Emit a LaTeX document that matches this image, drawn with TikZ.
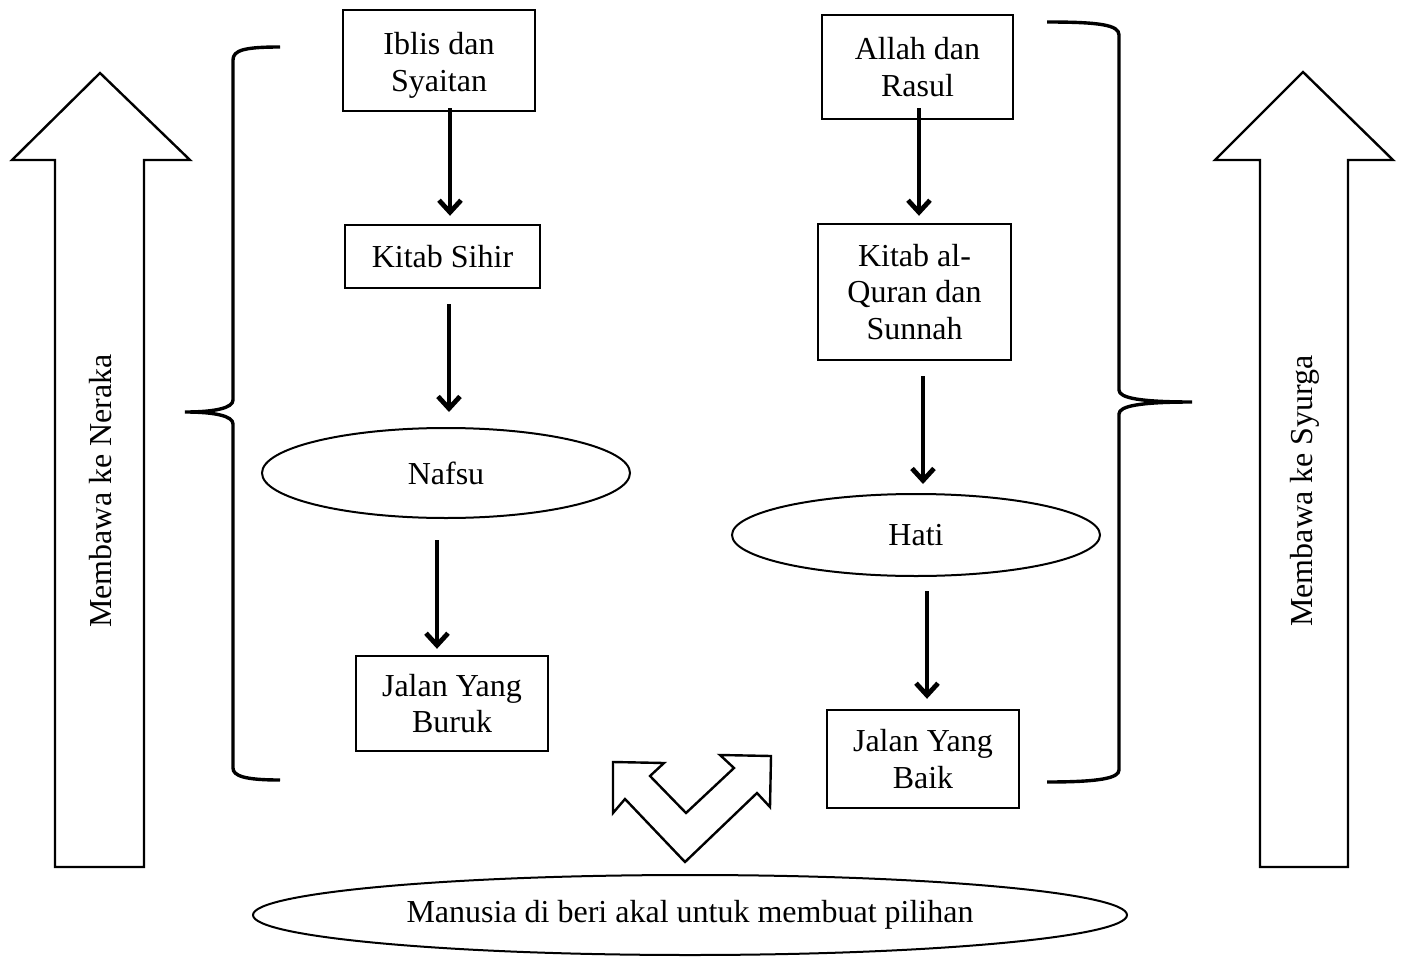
\documentclass[tikz,border=0pt]{standalone}
\usepackage{fontspec}
\setmainfont{Liberation Serif}
\usetikzlibrary{shapes.geometric,arrows.meta}

\tikzstyle{block} = [ draw,line width=1.2pt,align=center,inner sep=2pt,
                      font=\fontsize{16}{18.4}\selectfont]
\tikzstyle{oval}  = [ draw,ellipse,line width=1pt,inner sep=0pt,
                      font=\fontsize{16}{18.4}\selectfont]
\tikzstyle{flow}  = [ line width=2.4pt,-{Straight Barb[length=6pt,width=11pt]}]
\tikzstyle{brace} = [ line width=1.7pt]
\tikzstyle{fat}   = [ draw,line width=1.2pt,line join=miter]

\begin{document}
\begin{tikzpicture}[x=0.5pt,y=-0.5pt]
  \useasboundingbox (0,0) rectangle (1402,963);

  \node[block,minimum width=96pt,minimum height=50.5pt] at (439,60.5) (iblis) {\rule{0pt}{16pt}Iblis dan \\ Syaitan};
  \node[block,minimum width=97.5pt,minimum height=31.5pt] at (442.5,256.5) (sihir) {Kitab Sihir};
  \node[oval,minimum width=184pt,minimum height=45pt] at (446,473) (nafsu) {Nafsu};
  \node[block,minimum width=96pt,minimum height=47.5pt] at (452,703.5) (buruk) {Jalan Yang \\ Buruk};

  \node[block,minimum width=95.5pt,minimum height=52pt] at (917.5,67) (allah) {Allah dan \\ Rasul};
  \node[block,minimum width=96.5pt,minimum height=68pt] at (914.5,292) (quran) {Kitab al- \\ Quran dan \\ Sunnah};
  \node[oval,minimum width=184pt,minimum height=41pt] at (916,535) (hati) {Hati};
  \node[block,minimum width=96pt,minimum height=49pt] at (923,759) (baik) {Jalan Yang \\ Baik};

  \node[oval,minimum width=437pt,minimum height=40pt] at (690,915) (manusia) {Manusia di beri akal untuk membuat pilihan};

  \draw[flow,shorten <=-2pt,shorten >=4pt] ([xshift=5.5pt]iblis.south) -- ([xshift=3.75pt]sihir.north);
  \draw[flow,shorten <=7.5pt,shorten >=7.5pt] ([xshift=3.25pt]sihir.south) -- ([xshift=1.5pt]nafsu.north);
  \draw[flow,shorten <=10.5pt,shorten >=3pt] ([xshift=-4.5pt]nafsu.south) -- ([xshift=-7.5pt]buruk.north);
  \draw[flow,shorten <=-6pt,shorten >=3.5pt] ([xshift=0.75pt]allah.south) -- ([xshift=2.25pt]quran.north);
  \draw[flow,shorten <=7.5pt,shorten >=4.5pt] ([xshift=4.25pt]quran.south) -- ([xshift=3.5pt]hati.north);
  \draw[flow,shorten <=7pt,shorten >=5pt] ([xshift=5.5pt]hati.south) -- ([xshift=2pt]baik.north);

  \draw[brace] (280,47) .. controls (245,47) and (233,50) .. (233,60) -- (233,400)
    .. controls (233,408) and (215,412) .. (185,412) .. controls (215,412) and (233,416) .. (233,424)
    -- (233,768) .. controls (233,776) and (245,780) .. (280,780);
  \draw[brace] (1047,22) .. controls (1100,22) and (1119,25) .. (1119,35) -- (1119,390)
    .. controls (1119,398) and (1140,402) .. (1192,402) .. controls (1140,402) and (1119,406) .. (1119,414)
    -- (1119,770) .. controls (1119,778) and (1100,782) .. (1047,782);

  \draw[fat] (100,73) -- (190,160) -- (144,160) -- (144,867) -- (55,867) -- (55,160) -- (12,160) -- cycle;
  \draw[fat] (1303,72) -- (1393,160) -- (1348,160) -- (1348,867) -- (1260,867) -- (1260,160) -- (1215,160) -- cycle;
  \node[rotate=90,font=\fontsize{16}{18.4}\selectfont] at (101,491) (neraka) {Membawa ke Neraka};
  \node[rotate=90,font=\fontsize{16}{18.4}\selectfont] at (1305,491) (syurga) {Membawa ke Syurga};

  \draw[fat] (613,762) -- (664,763) -- (650,776) -- (686,813) -- (734,768) -- (720,755) -- (771,756)
    -- (770,807) -- (757,793) -- (685,862) -- (625,799) -- (613,813) -- cycle;
\end{tikzpicture}
\end{document}
